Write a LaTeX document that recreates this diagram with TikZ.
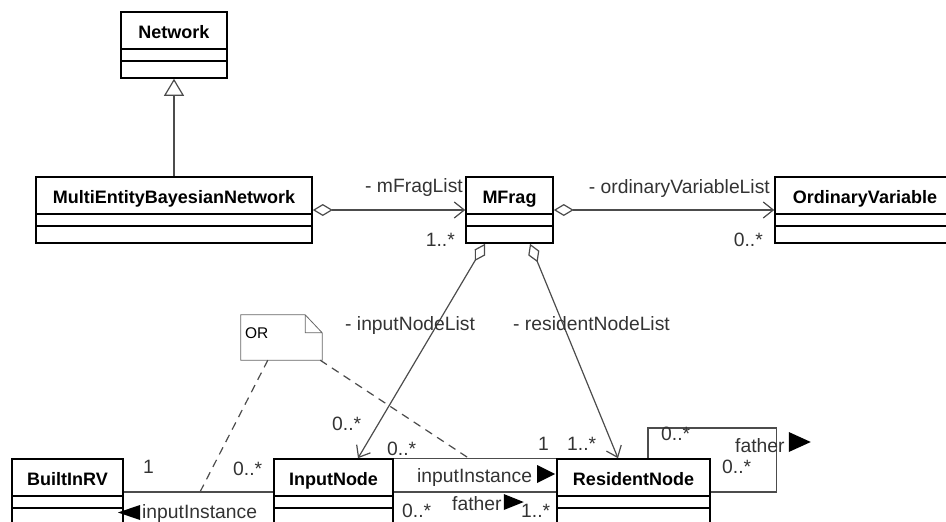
\documentclass[tikz,border=0pt]{standalone}
\usepackage{fontspec}
\setmainfont{Liberation Sans}
\usetikzlibrary{arrows.meta, positioning}

\newcommand{\classfont}{\fontsize{18}{20}\selectfont\bfseries}
\newcommand{\rolefont}{\fontsize{19.3}{22}\selectfont}
\newcommand{\notefont}{\fontsize{15.5}{17}\selectfont}

\begin{document}
\begin{tikzpicture}[
        x = 1pt, y = -1pt,
        on grid,
        umlclass/.style = {draw = black, line width = 1.6pt, fill = white, inner sep = 0pt,
            text height = 26pt, text depth = 40pt, font = \classfont,
            path picture = {
                \draw[line width = 1.3pt] ([yshift = -37pt]path picture bounding box.north west) -- ([yshift = -37pt]path picture bounding box.north east);
                \draw[line width = 1.3pt] ([yshift = -49pt]path picture bounding box.north west) -- ([yshift = -49pt]path picture bounding box.north east);
            }},
        link/.style = {draw = black!70, line width = 1.2pt},
        aggr/.style = {link, {Diamond[fill = white, length = 20pt, width = 12pt]}-{Straight Barb[length = 10pt, width = 16pt]}},
        gen/.style = {link, -{Triangle[fill = white, length = 17pt, width = 20pt]}},
        notelink/.style = {draw = black!70, line width = 1.2pt, dash pattern = on 8pt off 6pt},
        role/.style = {font = \rolefont, text = black!80, inner sep = 0pt}
    ]

    \useasboundingbox (0, 0) rectangle (946, 522);
    \clip (0, 0) rectangle (946, 522);

    % classes
    \node[umlclass, minimum width = 276pt] (mebn) at (174, 210) {MultiEntityBayesianNetwork};
    \node[umlclass, minimum width = 106pt] (network) [above = 165pt of mebn] {Network};
    \node[umlclass, minimum width = 87pt]  (mfrag)   [right = 335.5pt of mebn] {MFrag};
    \node[umlclass, minimum width = 180pt] (ordvar)  [right = 355.5pt of mfrag] {OrdinaryVariable};

    \node[umlclass, minimum width = 119pt] (inputnode) at (333.5, 492) {InputNode};
    \node[umlclass, minimum width = 111pt] (builtin) [left = 266pt of inputnode] {BuiltInRV};
    \node[umlclass, minimum width = 153pt] (resnode) [right = 300pt of inputnode] {ResidentNode};

    % note
    \node[minimum width = 81pt, minimum height = 45pt, inner xsep = 4pt, text width = 73pt, align = left,
          text height = 11pt, text depth = 10pt, font = \notefont] (ornote) at (281.5, 337.5) {OR};
    \draw[draw = black!60, line width = 0.8pt]
        (ornote.north west) -- ([xshift = -17pt]ornote.north east) -- ([yshift = -18pt]ornote.north east)
        -- (ornote.south east) -- (ornote.south west) -- cycle
        ([xshift = -17pt]ornote.north east) |- ([yshift = -18pt]ornote.north east);

    % connectors
    \draw[gen]  (mebn.north) -- (network.south);
    \draw[aggr] (mebn.east) -- (mfrag.west);
    \draw[aggr] (mfrag.east) -- (ordvar.west);
    \draw[aggr] ([xshift = -24.5pt]mfrag.south) -- ([xshift = 24.5pt]inputnode.north);
    \draw[aggr] ([xshift = 20.5pt]mfrag.south) -- ([xshift = -15.5pt]resnode.north);
    \draw[link] (builtin.east) -- (inputnode.west);
    \draw[link] (inputnode.north east) -- (resnode.north west);
    \draw[link] (inputnode.east) -- (resnode.west);
    \draw[link] ([xshift = 14.5pt]resnode.north) |- ([xshift = 66pt, yshift = 64pt]resnode.east)
        -- ([xshift = 66pt]resnode.east) -- (resnode.east);

    \coordinate (bi-in) at (200, 492);
    \coordinate (in-rn) at (470, 459);
    \draw[notelink] ([xshift = 27pt]ornote.south west) -- (bi-in);
    \draw[notelink] ([xshift = -2pt]ornote.south east) -- (in-rn);

    % roles and multiplicities
    \node[role, anchor = base east] (mfraglist) at (463, 192) {- mFragList};
    \node[role, anchor = base east] (mfragmult) at (455, 246) {1..*};
    \node[role, anchor = base east] (ovlist) at (770, 193) {- ordinaryVariableList};
    \node[role, anchor = base east] (ovmult) at (763, 246) {0..*};
    \node[role, anchor = base west] (inlist) at (345, 330) {- inputNodeList};
    \node[role, anchor = base west] (rnlist) at (513, 330) {- residentNodeList};
    \node[role, anchor = base west] (inmult) at (332, 430) {0..*};
    \node[role, anchor = base west] (iimultin) at (387, 455) {0..*};
    \node[role, anchor = base west] (iimultrn) at (538, 450) {1};
    \node[role, anchor = base west] (rnmult) at (567, 450) {1..*};
    \node[role, anchor = base west] (loopmulta) at (661, 440) {0..*};
    \node[role, anchor = base west] (loopfather) at (735, 452) {father};
    \node[role, anchor = base west] (loopmultb) at (722, 473) {0..*};
    \node[role, anchor = base west] (bimult) at (143, 473) {1};
    \node[role, anchor = base west] (bimultin) at (233, 475) {0..*};
    \node[role, anchor = base west] (biinst) at (142, 518) {inputInstance};
    \node[role, anchor = base west] (rninst) at (417, 482) {inputInstance};
    \node[role, anchor = base west] (father) at (452, 510) {father};
    \node[role, anchor = base west] (fathermultin) at (402, 517) {0..*};
    \node[role, anchor = base west] (fathermultrn) at (521, 517) {1..*};

    % reading directions
    \fill[shift = {(biinst.base west)}] (-2, 2) -- (-2, -13) -- (-24, -5.5) -- cycle;
    \fill[shift = {(rninst.base east)}] (5, 1) -- (5, -17) -- (23, -8) -- cycle;
    \fill[shift = {(father.base east)}] (2, 0) -- (2, -16) -- (22, -8) -- cycle;
    \fill[shift = {(loopfather.base east)}] (4, 0) -- (4, -20) -- (26, -10) -- cycle;

\end{tikzpicture}
\end{document}
